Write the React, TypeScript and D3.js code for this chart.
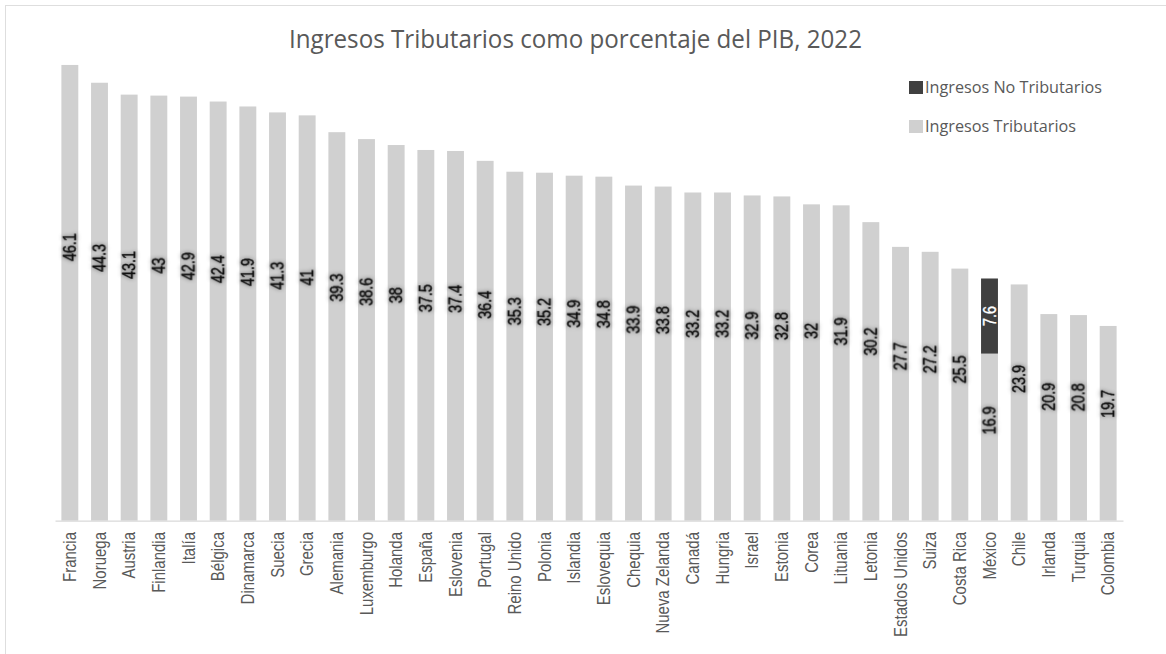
import * as React from "react";
import * as d3 from "d3";

// chart data
const title = "Ingresos Tributarios como porcentaje del PIB, 2022";
const seriesNames = ["Ingresos No Tributarios", "Ingresos Tributarios"];
const countries = [
  "Francia", "Noruega", "Austria", "Finlandia", "Italía", "Bélgica", "Dinamarca", "Suecia", "Grecia",
  "Alemania", "Luxemburgo", "Holanda", "España", "Eslovenia", "Portugal", "Reino Unido", "Polonia",
  "Islandia", "Eslovequia", "Chequia", "Nueva Zelanda", "Canadá", "Hungria", "Israel", "Estonia",
  "Corea", "Lituania", "Letonia", "Estados Unidos", "Suiza", "Costa Rica", "México", "Chile",
  "Irlanda", "Turquia", "Colombia",
];
const tributarios = [
  46.1, 44.3, 43.1, 43, 42.9, 42.4, 41.9, 41.3, 41, 39.3, 38.6, 38, 37.5, 37.4, 36.4, 35.3, 35.2,
  34.9, 34.8, 33.9, 33.8, 33.2, 33.2, 32.9, 32.8, 32, 31.9, 30.2, 27.7, 27.2, 25.5, 16.9, 23.9,
  20.9, 20.8, 19.7,
];
const noTributarios = [
  0, 0, 0, 0, 0, 0, 0, 0, 0, 0, 0, 0, 0, 0, 0, 0, 0, 0, 0, 0, 0, 0, 0, 0, 0, 0, 0, 0, 0, 0, 0, 7.6,
  0, 0, 0, 0,
];

const colors = { trib: "#d0d0d0", noTrib: "#404040" };

export default function App() {
  const ref = React.useRef<SVGSVGElement>(null);

  React.useEffect(() => {
    const width = 1166, height = 654;
    const svg = d3.select(ref.current);
    svg.selectAll("*").remove();

    // soft dark glow behind the value labels
    const f = svg.append("defs").append("filter").attr("id", "glow")
      .attr("x", "-50%").attr("y", "-50%").attr("width", "200%").attr("height", "200%");
    f.append("feGaussianBlur").attr("in", "SourceAlpha").attr("stdDeviation", 2).attr("result", "b");
    f.append("feFlood").attr("flood-color", "#000").attr("flood-opacity", 0.5).attr("result", "c");
    f.append("feComposite").attr("in", "c").attr("in2", "b").attr("operator", "in").attr("result", "s");
    const m = f.append("feMerge");
    m.append("feMergeNode").attr("in", "s");
    m.append("feMergeNode").attr("in", "SourceGraphic");

    svg.append("rect").attr("width", width).attr("height", height).attr("fill", "#fff");
    // chart frame
    svg.append("rect").attr("x", 5.5).attr("y", 5.5).attr("width", 1200).attr("height", 700)
      .attr("fill", "none").attr("stroke", "#dedede");

    // set the ranges
    const x = d3.scaleBand().domain(countries).range([55, 1123]).paddingInner(0.43).paddingOuter(0.215);
    const y = d3.scaleLinear().domain([0, 50]).range([520.7, 26.4]);

    const rows = countries.map((c, i) => ({ pais: c, trib: tributarios[i], noTrib: noTributarios[i] }));
    const stacked = d3.stack<any>().keys(["trib", "noTrib"])(rows);

    // bars
    stacked.forEach((layer) => {
      svg.append("g").selectAll("rect")
        .data(layer)
        .join("rect")
        .attr("x", (d: any) => x(d.data.pais)!)
        .attr("width", x.bandwidth())
        .attr("y", (d) => y(d[1]))
        .attr("height", (d) => y(d[0]) - y(d[1]))
        .attr("fill", colors[layer.key as "trib" | "noTrib"]);
    });

    // x axis
    const ax = svg.append("g")
      .attr("transform", "translate(0," + 520.7 + ")")
      .call(d3.axisBottom(x).tickSize(0).tickSizeOuter(0));
    ax.select(".domain").attr("stroke", "#d9d9d9").attr("stroke-width", 1.3);
    ax.selectAll("text")
      .attr("x", -11.3).attr("y", 0).attr("dy", "0.35em")
      .attr("text-anchor", "end")
      .attr("transform", "rotate(-90) scale(1,1.2)")
      .attr("fill", "#595959")
      .style("font-family", "'Liberation Sans', Arial, sans-serif")
      .style("font-size", "15px");

    // value labels
    const labelGroup = svg.append("g")
      .style("font-family", "'Liberation Sans', Arial, sans-serif")
      .style("font-size", "14.4px");
    rows.forEach((r) => {
      const cx = x(r.pais)! + x.bandwidth() / 2;
      labelGroup.append("text")
        .attr("transform", "translate(" + cx + "," + y(r.trib * 0.6) + ") rotate(-90) scale(1,1.25)")
        .attr("text-anchor", "middle").attr("dy", "0.35em")
        .attr("fill", "#111").attr("stroke", "#111").attr("stroke-width", 0.35)
        .attr("filter", "url(#glow)")
        .text(String(r.trib));
      if (r.noTrib > 0) {
        labelGroup.append("text")
          .attr("transform", "translate(" + cx + "," + y(r.trib + r.noTrib / 2) + ") rotate(-90) scale(1,1.25)")
          .attr("text-anchor", "middle").attr("dy", "0.35em")
          .attr("fill", "#fff").attr("stroke", "#fff").attr("stroke-width", 0.3)
          .text(String(r.noTrib));
      }
    });

    // title
    svg.append("text")
      .attr("x", 575.5).attr("y", 48)
      .attr("text-anchor", "middle")
      .attr("fill", "#595959")
      .attr("textLength", 573).attr("lengthAdjust", "spacingAndGlyphs")
      .style("font-family", "'Open Sans', sans-serif")
      .style("font-size", "25px")
      .text(title);

    // legend
    const legend = svg.append("g");
    const legendColors = [colors.noTrib, colors.trib];
    const legendLengths = [177, 151];
    seriesNames.forEach((name, i) => {
      const ly = 81 + i * 39;
      legend.append("rect").attr("x", 909).attr("y", ly).attr("width", 14).attr("height", 13)
        .attr("fill", legendColors[i]);
      legend.append("text")
        .attr("x", 925).attr("y", ly + 12)
        .attr("fill", "#595959")
        .attr("textLength", legendLengths[i]).attr("lengthAdjust", "spacingAndGlyphs")
        .style("font-family", "'Open Sans', sans-serif")
        .style("font-size", "16px")
        .text(name);
    });
  }, []);

  return (
    <svg ref={ref} width={1166} height={654}
      style={{ position: "absolute", left: 0, top: 0, background: "#fff" }} />
  );
}
